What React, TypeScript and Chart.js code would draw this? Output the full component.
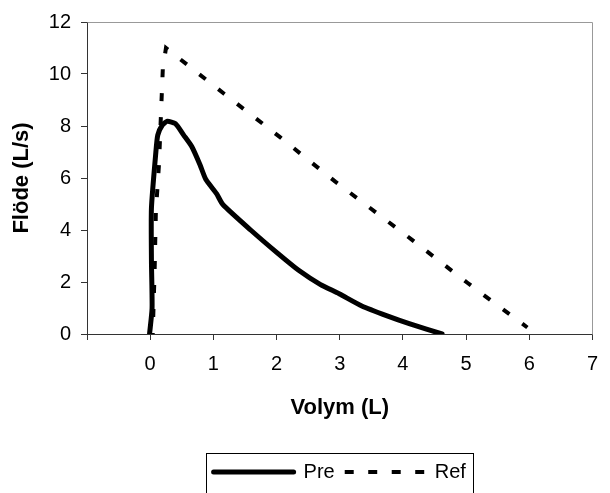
import React, { useEffect, useRef } from 'react';
import { Chart, registerables } from 'chart.js';

Chart.register(...registerables);

// ---- Data ----
const seriesNames = ['Pre', 'Ref'];

const preVolume = [-0.01, 0.03, 0.02, 0.02, 0.09, 0.12, 0.19, 0.27, 0.4, 0.53, 0.66, 0.79, 0.88, 1.05, 1.15, 1.59, 2.02, 2.35, 2.69, 2.99, 3.35, 3.75, 4.1, 4.62];
const preFlow = [0, 1.0, 2.8, 4.85, 7.0, 7.65, 8.03, 8.18, 8.09, 7.65, 7.2, 6.5, 5.95, 5.4, 4.98, 4.0, 3.1, 2.45, 1.91, 1.55, 1.08, 0.7, 0.4, 0];

const refVolume = [0.04, 0.07, 0.09, 0.14, 0.17, 0.2, 0.25, 1.17, 2.05, 2.93, 4.14, 5.02, 5.97];
const refFlow = [0, 2.4, 4.7, 6.55, 8.4, 10.2, 11.0, 9.24, 7.58, 5.86, 3.63, 1.97, 0.25];

const xAxisRange = [-1, 7];
const xAxisStep = 1;
const yAxisRange = [0, 12];
const yAxisStep = 2;

const xTitle = 'Volym (L)';
const yTitle = 'Flöde (L/s)';

const FONT = "'Liberation Sans', Arial, Helvetica, sans-serif";

const frameAndLegendBox = {
  id: 'frameAndLegendBox',
  beforeDatasetsDraw(chart: any) {
    const { ctx, chartArea } = chart;
    ctx.save();
    ctx.strokeStyle = '#999999';
    ctx.lineWidth = 1;
    ctx.setLineDash([]);
    ctx.beginPath();
    const l = Math.round(chartArea.left) + 0.5;
    const t = Math.round(chartArea.top) + 0.5;
    const r = Math.round(chartArea.right) + 0.5;
    const b = Math.round(chartArea.bottom) + 0.5;
    ctx.moveTo(l, t);
    ctx.lineTo(r, t);
    ctx.lineTo(r, b);
    ctx.stroke();
    ctx.restore();
  },
  afterDraw(chart: any) {
    const legend = chart.legend;
    if (!legend || !legend.legendHitBoxes || !legend.legendHitBoxes.length) return;
    const hb = legend.legendHitBoxes;
    const first = hb[0];
    const last = hb[hb.length - 1];
    const { ctx } = chart;
    const left = Math.round(first.left - 8) + 0.5;
    const right = Math.round(last.left + last.width + 7) + 0.5;
    const cy = first.top + first.height / 2;
    const top = Math.round(cy - 19) + 0.5;
    const bottom = Math.round(cy + 40) + 0.5;
    ctx.save();
    ctx.strokeStyle = '#000000';
    ctx.lineWidth = 1;
    ctx.setLineDash([]);
    ctx.strokeRect(left, top, right - left, bottom - top);
    ctx.restore();
  },
};

export default function App() {
  const canvasRef = useRef<HTMLCanvasElement | null>(null);

  useEffect(() => {
    const canvas = canvasRef.current;
    if (!canvas) return;

    const chart = new Chart(canvas, {
      type: 'scatter',
      data: {
        datasets: [
          {
            label: seriesNames[0],
            data: preVolume.map((x, i) => ({ x, y: preFlow[i] })),
            showLine: true,
            borderColor: '#000000',
            backgroundColor: '#000000',
            borderWidth: 5,
            borderCapStyle: 'round',
            borderJoinStyle: 'round',
            pointRadius: 0,
            pointHoverRadius: 0,
            tension: 0.2,
          },
          {
            label: seriesNames[1],
            data: refVolume.map((x, i) => ({ x, y: refFlow[i] })),
            showLine: true,
            borderColor: '#000000',
            backgroundColor: '#000000',
            borderWidth: 4,
            borderDash: [8, 16],
            borderDashOffset: 7,
            borderCapStyle: 'butt',
            pointRadius: 0,
            pointHoverRadius: 0,
            tension: 0,
          },
        ] as any,
      },
      options: {
        animation: false,
        responsive: false,
        maintainAspectRatio: false,
        events: [],
        layout: { padding: { left: 0, right: 11, top: 19, bottom: 1 } },
        plugins: {
          tooltip: { enabled: false },
          legend: {
            display: true,
            position: 'bottom',
            fullSize: false,
            labels: {
              usePointStyle: true,
              pointStyle: 'line',
              pointStyleWidth: 80,
              padding: 10,
              color: '#000000',
              font: { family: FONT, size: 20 },
              generateLabels: (c: any) => {
                const items = (Chart.defaults.plugins.legend.labels as any).generateLabels(c);
                items.forEach((it: any) => {
                  const ds: any = c.data.datasets[it.datasetIndex];
                  it.lineDash = ds.borderDash ? [9, 14.5] : [];
                  it.lineDashOffset = 0;
                  it.lineWidth = ds.borderWidth;
                  it.strokeStyle = ds.borderColor;
                  it.fillStyle = ds.borderColor;
                  it.lineCap = ds.borderCapStyle || 'butt';
                  it.pointStyle = 'line';
                });
                return items;
              },
            },
          },
        },
        scales: {
          x: {
            type: 'linear',
            min: xAxisRange[0],
            max: xAxisRange[1],
            ticks: {
              stepSize: xAxisStep,
              autoSkip: false,
              padding: 12,
              color: '#000000',
              font: { family: FONT, size: 20 },
              callback: (v: any) => (Number(v) < 0 ? '' : String(v)),
            },
            grid: { drawOnChartArea: false, drawTicks: true, tickLength: 6, color: '#333333', lineWidth: 1 },
            border: { display: true, color: '#333333', width: 1 },
            title: {
              display: true,
              text: xTitle,
              color: '#000000',
              font: { family: FONT, size: 22, weight: 'bold' },
              padding: { top: 0, bottom: 31 },
            },
            afterFit: (s: any) => {
              s.height = 118;
            },
          },
          y: {
            type: 'linear',
            min: yAxisRange[0],
            max: yAxisRange[1],
            ticks: {
              stepSize: yAxisStep,
              autoSkip: false,
              padding: 10,
              color: '#000000',
              font: { family: FONT, size: 20 },
            },
            grid: { drawOnChartArea: false, drawTicks: true, tickLength: 6, color: '#333333', lineWidth: 1 },
            border: { display: true, color: '#333333', width: 1 },
            title: {
              display: true,
              text: yTitle,
              color: '#000000',
              font: { family: FONT, size: 22, weight: 'bold' },
              padding: { top: 9, bottom: 0 },
            },
            afterFit: (s: any) => {
              s.width = 87;
            },
          },
        },
      } as any,
      plugins: [frameAndLegendBox],
    });

    return () => {
      chart.destroy();
    };
  }, []);

  return (
    <div style={{ position: 'fixed', left: 0, top: 0, width: 610, height: 493, background: '#ffffff' }}>
      <canvas ref={canvasRef} width={610} height={493} style={{ display: 'block', width: 610, height: 493 }} />
    </div>
  );
}
